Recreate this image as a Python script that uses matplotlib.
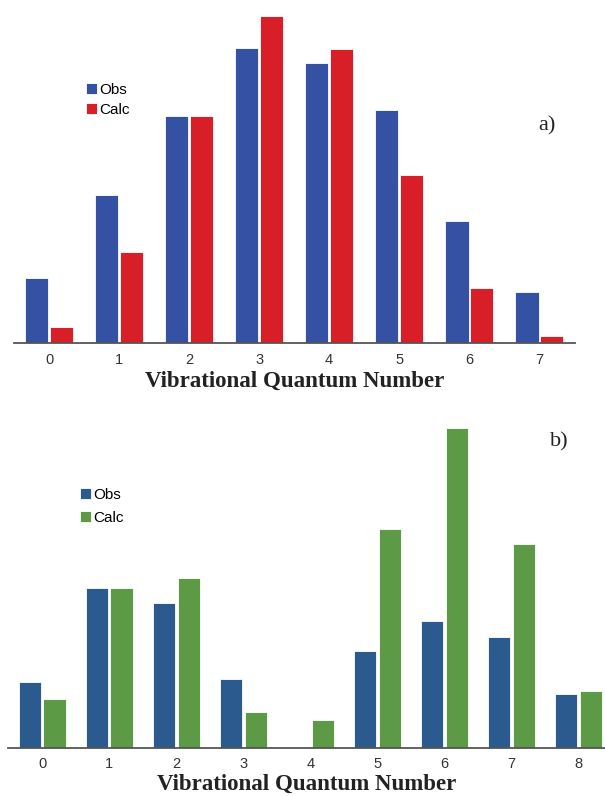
import matplotlib
matplotlib.use("Agg")
import matplotlib.pyplot as plt
import numpy as np

# panel a)
v_a = [0, 1, 2, 3, 4, 5, 6, 7]
obs_a = [65, 148, 227, 295, 280, 233, 122, 51]
calc_a = [16, 91, 227, 327, 294, 168, 55, 7]

# panel b)
v_b = [0, 1, 2, 3, 4, 5, 6, 7, 8]
obs_b = [66, 160, 145, 69, 0, 97, 127, 111, 54]
calc_b = [49, 160, 170, 36, 28, 219, 320, 204, 57]

plt.rcParams['font.family'] = ['Liberation Sans', 'DejaVu Sans']

fig = plt.figure(figsize=(6.05, 7.96), dpi=100)
W, H = 605.0, 796.0


def panel(rect, v, obs, calc, c_obs, c_calc, xlim, ylim, width, off,
          leg_xy, tag, tag_xy, labelspacing, labelpad):
    ax = fig.add_axes(rect)
    x = np.array(v)
    ax.bar(x - off, obs, width, color=c_obs, edgecolor='white', linewidth=0.6,
           label='Obs')
    ax.bar(x + off, calc, width, color=c_calc, edgecolor='white', linewidth=0.6,
           label='Calc')
    ax.set_xlim(*xlim)
    ax.set_ylim(*ylim)
    for s in ['top', 'right', 'left']:
        ax.spines[s].set_visible(False)
    ax.spines['bottom'].set_color('#555555')
    ax.spines['bottom'].set_linewidth(1.3)
    ax.set_yticks([])
    ax.set_xticks(v)
    ax.set_xticklabels([str(i) for i in v])
    ax.tick_params(axis='x', length=0, pad=7, labelsize=10.5, colors='#333333')
    ax.set_xlabel('Vibrational Quantum Number', family='Liberation Serif',
                  fontweight='bold', fontsize=16.5, color='#222222',
                  labelpad=labelpad)
    ax.legend(loc='upper left', bbox_to_anchor=(leg_xy[0] / W, 1 - leg_xy[1] / H),
              bbox_transform=fig.transFigure, frameon=False, borderpad=0,
              handlelength=0.75, handleheight=0.75, handletextpad=0.15,
              labelspacing=labelspacing, fontsize=11, borderaxespad=0)
    fig.text(tag_xy[0] / W, 1 - tag_xy[1] / H, tag, family='Liberation Serif',
             fontsize=16, ha='center', va='center', color='#222222')
    return ax


# top panel: baseline at y=343 px
panel([14 / W, 1 - 343.3 / H, (575 - 14) / W, 338.3 / H],
      v_a, obs_a, calc_a, '#3551a3', '#d81e27', (-0.5, 7.51), (0, 338.3),
      0.335, 0.178, (86, 83), 'a)', (547, 126), 0.4, 3)

# bottom panel: baseline at y=748 px
panel([8 / W, 1 - 747.7 / H, (605 - 8) / W, 327.7 / H],
      v_b, obs_b, calc_b, '#2b5a8f', '#5c9a45', (-0.507, 8.39), (0, 327.7),
      0.33, 0.185, (80, 488), 'b)', (559, 442), 0.6, 2)

fig.savefig('out.png', dpi=100)
